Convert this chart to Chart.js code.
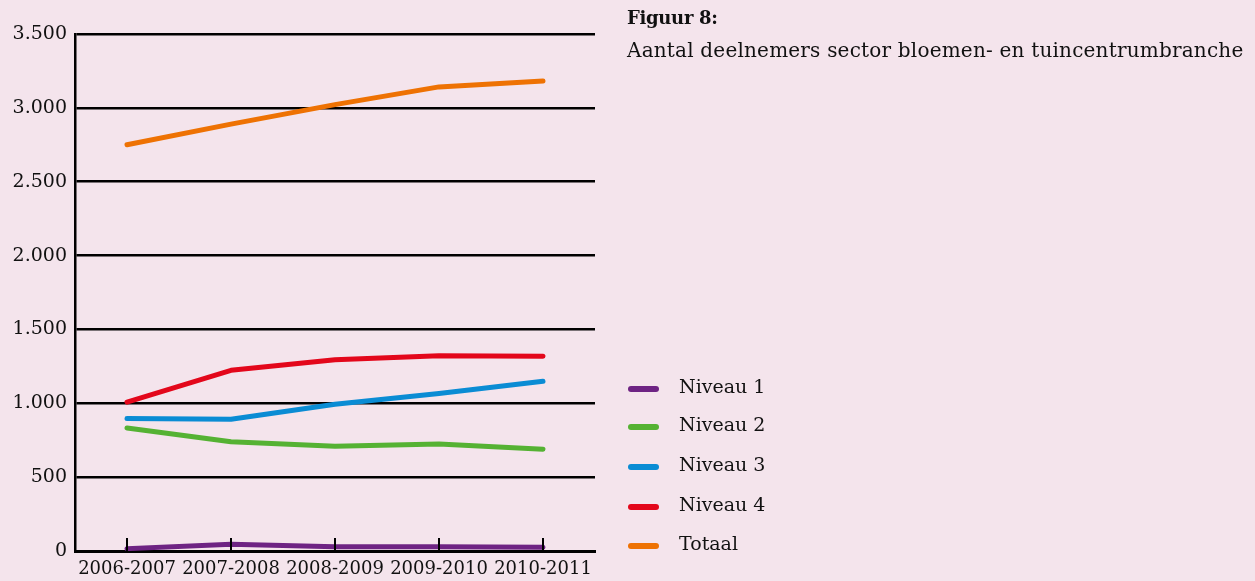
<!DOCTYPE html>
<html>
<head>
<meta charset="utf-8">
<script src="https://cdn.jsdelivr.net/npm/chart.js@4/dist/chart.umd.min.js"></script>
<style>
  html,body{ margin:0; padding:0; background:#f4e4ec; }
  #wrap{ position:relative; width:1255px; height:581px; overflow:hidden; }
  canvas{ position:absolute; left:0; top:0; }
  .ttl{ position:absolute; left:627px; font-family:"DejaVu Serif",serif; color:#111; white-space:nowrap; }
  #t1{ top:7px; font-size:18px; font-weight:bold; letter-spacing:-0.3px; }
  #t2{ top:38px; font-size:20px; letter-spacing:0.2px; }
  #legend{ position:absolute; left:628px; top:0; font-family:"DejaVu Serif",serif; font-size:19px; color:#111; }
  .item{ position:absolute; left:0; white-space:nowrap; }
  .swatch{ position:absolute; left:0; width:31px; height:6px; border-radius:3px; }
  .lbl{ position:absolute; left:51px; }
</style>
</head>
<body>
<div id="wrap">
  <canvas id="chart" width="1255" height="581"></canvas>
  <div class="ttl" id="t1">Figuur 8:</div>
  <div class="ttl" id="t2">Aantal deelnemers sector bloemen- en tuincentrumbranche</div>
  <div id="legend"></div>
</div>
<script>
const years = ["2006-2007","2007-2008","2008-2009","2009-2010","2010-2011"];
const niveau1 = [16, 45, 29, 29, 25];
const niveau2 = [833, 739, 709, 725, 689];
const niveau3 = [897, 892, 993, 1066, 1149];
const niveau4 = [1008, 1223, 1295, 1322, 1318];
const totaal = [2750, 2890, 3022, 3142, 3182];
const seriesNames = ["Niveau 1","Niveau 2","Niveau 3","Niveau 4","Totaal"];
const seriesColors = ["#6e2383","#55b233","#0a8cd4","#e3071b","#ee7203"];
const legendRows = [389, 427, 467, 507, 546];

const seriesData = [niveau1, niveau2, niveau3, niveau4, totaal];
const serif = "'DejaVu Serif', serif";

// small upward ticks on the x axis at each category
const upTicks = {
  id:"upTicks",
  afterDatasetsDraw(chart){
    const x = chart.scales.x, ctx = chart.ctx, bottom = chart.chartArea.bottom;
    ctx.save();
    ctx.strokeStyle = "#000";
    ctx.lineWidth = 2;
    x.ticks.forEach((t, i) => {
      const px = x.getPixelForTick(i);
      ctx.beginPath();
      ctx.moveTo(px, bottom);
      ctx.lineTo(px, bottom - 13);
      ctx.stroke();
    });
    ctx.restore();
  }
};

new Chart(document.getElementById("chart").getContext("2d"), {
  type:"line",
  data:{
    labels:years,
    datasets:seriesData.map((d, i) => ({
      label:seriesNames[i], data:d, borderColor:seriesColors[i], backgroundColor:seriesColors[i],
      borderWidth:5, pointRadius:0, tension:0, borderCapStyle:"round", borderJoinStyle:"round"
    }))
  },
  options:{
    responsive:false,
    animation:false,
    layout:{ padding:{ left:0, right:660, top:34, bottom:0 } },
    plugins:{ legend:{ display:false }, tooltip:{ enabled:false } },
    scales:{
      x:{
        offset:true,
        grid:{ display:false, drawTicks:false },
        border:{ display:true, color:"#000", width:3 },
        ticks:{ color:"#111", font:{ family:serif, size:18 }, padding:8, maxRotation:0, autoSkip:false },
        afterFit(s){ s.height = 30; }
      },
      y:{
        min:0, max:3500,
        grid:{ color:"#000", lineWidth:2.5, drawTicks:false },
        border:{ display:true, color:"#000", width:2.5 },
        ticks:{ stepSize:500, color:"#111", padding:8, font:{ family:serif, size:19 },
          callback:v => Number(v).toLocaleString("nl-NL") },
        afterFit(s){ s.width = 75; }
      }
    }
  },
  plugins:[upTicks]
});

const legend = document.getElementById("legend");
seriesNames.forEach((name, i) => {
  const row = document.createElement("div");
  row.className = "item";
  row.style.top = legendRows[i] + "px";
  row.innerHTML = `<div class="swatch" style="background:${seriesColors[i]};top:-3px"></div><div class="lbl" style="top:-14px">${name}</div>`;
  legend.appendChild(row);
});
</script>
</body>
</html>
